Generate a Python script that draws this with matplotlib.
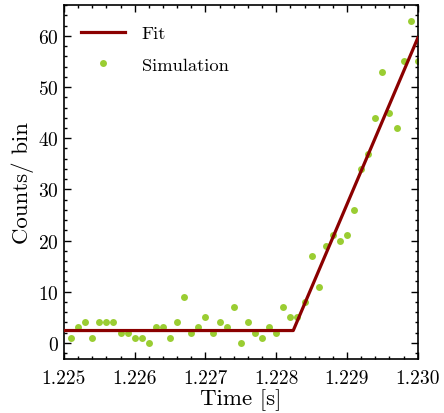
import matplotlib
matplotlib.use("Agg")
import matplotlib.pyplot as plt
from matplotlib.ticker import MultipleLocator, FormatStrFormatter

plt.rcParams['font.family'] = 'serif'
plt.rcParams['font.serif'] = ['cmr10']
plt.rcParams['mathtext.fontset'] = 'cm'
plt.rcParams['axes.formatter.use_mathtext'] = True

# simulated counts per 0.1 ms bin
t_sim = [1.2251, 1.2252, 1.2253, 1.2254, 1.2255, 1.2256, 1.2257, 1.2258, 1.2259, 1.2260,
         1.2261, 1.2262, 1.2263, 1.2264, 1.2265, 1.2266, 1.2267, 1.2268, 1.2269, 1.2270,
         1.2271, 1.2272, 1.2273, 1.2274, 1.2275, 1.2276, 1.2277, 1.2278, 1.2279, 1.2280,
         1.2281, 1.2282, 1.2283, 1.2284, 1.2285, 1.2286, 1.2287, 1.2288, 1.2289, 1.2290,
         1.2291, 1.2292, 1.2293, 1.2294, 1.2295, 1.2296, 1.2297, 1.2298, 1.2299, 1.2300]
counts = [1, 3, 4, 1, 4, 4, 4, 2, 2, 1,
          1, 0, 3, 3, 1, 4, 9, 2, 3, 5,
          2, 4, 3, 7, 0, 4, 2, 1, 3, 2,
          7, 5, 5, 8, 17, 11, 19, 21, 20, 21,
          26, 34, 37, 44, 53, 45, 42, 55, 63, 55]

# broken-line fit (flat background, then linear rise)
fit_t = [1.225, 1.22824, 1.230]
fit_y = [2.4, 2.4, 59.6]

fig = plt.figure(figsize=(4.44, 4.14), dpi=100)
ax = fig.add_axes([0.144, 0.130, 0.797, 0.855])

ax.plot(fit_t, fit_y, color='#8b0000', lw=2.3, label='Fit', zorder=3)
ax.plot(t_sim, counts, 'o', color='#9acd32', ms=5, mec='none', label='Simulation', zorder=2)

ax.set_xlim(1.225, 1.230)
ax.set_ylim(-3.2, 66)
ax.xaxis.set_major_locator(MultipleLocator(0.001))
ax.xaxis.set_minor_locator(MultipleLocator(0.0002))
ax.xaxis.set_major_formatter(FormatStrFormatter('%.3f'))
ax.yaxis.set_major_locator(MultipleLocator(10))
ax.yaxis.set_minor_locator(MultipleLocator(2))

ax.tick_params(which='both', direction='in', top=True, right=True, labelsize=14, width=1.0)
ax.tick_params(which='major', length=5)
ax.tick_params(which='minor', length=2.5)
ax.tick_params(axis='x', pad=7)
for s in ax.spines.values():
    s.set_linewidth(1.2)

ax.set_xlabel('Time [s]', fontsize=16.5, labelpad=1)
ax.set_ylabel('Counts/ bin', fontsize=16.5, labelpad=3)
ax.legend(loc='upper left', bbox_to_anchor=(-0.01, 1), frameon=False, fontsize=13.3,
          handlelength=2.4, handletextpad=0.9, labelspacing=0.82, borderaxespad=0.7)

fig.savefig('out.png', dpi=100)
